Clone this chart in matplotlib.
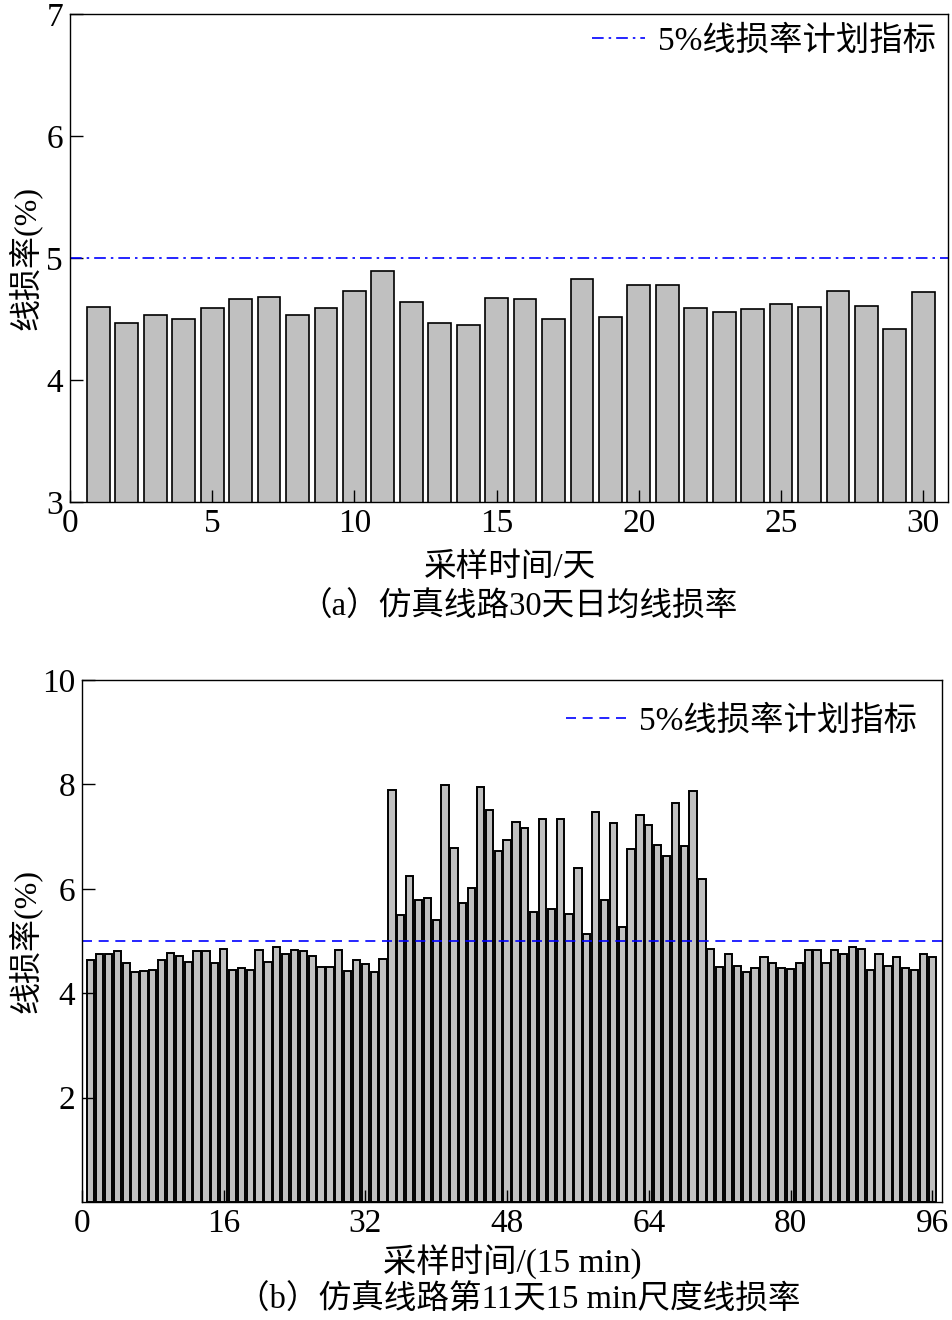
import numpy as np
import matplotlib
matplotlib.use('Agg')
import matplotlib.pyplot as plt

plt.rcParams['font.family'] = ['Liberation Serif', 'Noto Sans CJK SC']
plt.rcParams['axes.unicode_minus'] = False

# (a) 30天日均线损率
days = list(range(1, 31))
daily_loss = [4.60, 4.47, 4.53, 4.50, 4.59, 4.66, 4.68, 4.53, 4.59, 4.73,
              4.89, 4.64, 4.47, 4.45, 4.67, 4.66, 4.50, 4.83, 4.52, 4.78,
              4.78, 4.59, 4.56, 4.58, 4.62, 4.60, 4.73, 4.61, 4.42, 4.72]

# (b) 第11天15 min线损率
slots = list(range(1, 97))
slot_loss = [4.64, 4.76, 4.76, 4.81, 4.58, 4.41, 4.42, 4.44, 4.64, 4.78,
             4.72, 4.60, 4.81, 4.81, 4.58, 4.85, 4.45, 4.49, 4.45, 4.83,
             4.60, 4.89, 4.76, 4.83, 4.81, 4.72, 4.51, 4.51, 4.83, 4.43,
             4.63, 4.56, 4.41, 4.65, 7.89, 5.49, 6.25, 5.79, 5.83, 5.40,
             7.98, 6.79, 5.73, 6.02, 7.96, 7.51, 6.73, 6.93, 7.28, 7.17,
             5.56, 7.34, 5.62, 7.34, 5.52, 6.40, 5.14, 7.48, 5.79, 7.27,
             5.27, 6.76, 7.42, 7.23, 6.84, 6.63, 7.65, 6.82, 7.88, 6.19,
             4.85, 4.50, 4.76, 4.52, 4.41, 4.48, 4.69, 4.57, 4.48, 4.46,
             4.57, 4.83, 4.83, 4.58, 4.83, 4.76, 4.89, 4.85, 4.45, 4.76,
             4.52, 4.69, 4.48, 4.45, 4.76, 4.69]

target = 5.0
legend_label = '5%线损率计划指标'

fig = plt.figure(figsize=(9.52, 13.2), dpi=100)

# ---- 上图 ----
ax1 = fig.add_axes([0.0735, 0.6197, 0.9223, 0.3697])
ax1.bar(days, daily_loss, width=0.8, color='#c0c0c0', edgecolor='black', linewidth=1.2)
ax1.axhline(target, color='blue', linestyle=(0, (7, 3, 1.5, 3)), linewidth=1.2, label=legend_label)
ax1.set_xlim(0, 30.87)
ax1.set_ylim(3, 7)
ax1.set_xticks([0, 5, 10, 15, 20, 25, 30])
ax1.set_yticks([3, 4, 5, 6, 7])
ax1.tick_params(direction='in', length=9, width=1.0, labelsize=24, pad=5)
ax1.set_ylabel('线损率(%)', fontsize=23)
ax1.yaxis.set_label_coords(-0.032, 0.5)
ax1.legend(loc='upper right', frameon=False, fontsize=24, handlelength=1.6,
           handletextpad=0.4, borderaxespad=0.15, borderpad=0.2)

# ---- 下图 ----
ax2 = fig.add_axes([0.0861, 0.0894, 0.9034, 0.3954])
ax2.bar(slots, slot_loss, width=0.82, color='#c0c0c0', edgecolor='black', linewidth=1.4)
ax2.axhline(target, color='blue', linestyle=(0, (6, 4)), linewidth=1.2, label=legend_label)
ax2.set_xlim(0, 97.1)
ax2.set_ylim(0, 10)
ax2.set_xticks([0, 16, 32, 48, 64, 80, 96])
ax2.set_yticks([2, 4, 6, 8, 10])
ax2.tick_params(direction='in', length=9, width=1.0, labelsize=24, pad=5)
ax2.set_ylabel('线损率(%)', fontsize=23)
ax2.yaxis.set_label_coords(-0.047, 0.5)
ax2.legend(loc='upper right', frameon=False, fontsize=24, handlelength=1.8,
           handletextpad=0.4, borderaxespad=0.55, borderpad=0.2)

for ax in (ax1, ax2):
    for s in ax.spines.values():
        s.set_linewidth(1.0)

fig.text(0.536, 0.5697, '采样时间/天', ha='center', va='center', fontsize=23.5)
fig.text(0.545, 0.540, '（a）仿真线路30天日均线损率', ha='center', va='center', fontsize=23.5)
fig.text(0.538, 0.0432, '采样时间/(15 min)', ha='center', va='center', fontsize=24)
fig.text(0.545, 0.0152, '（b）仿真线路第11天15 min尺度线损率', ha='center', va='center', fontsize=23.5)

fig.savefig('out.png', dpi=100)
